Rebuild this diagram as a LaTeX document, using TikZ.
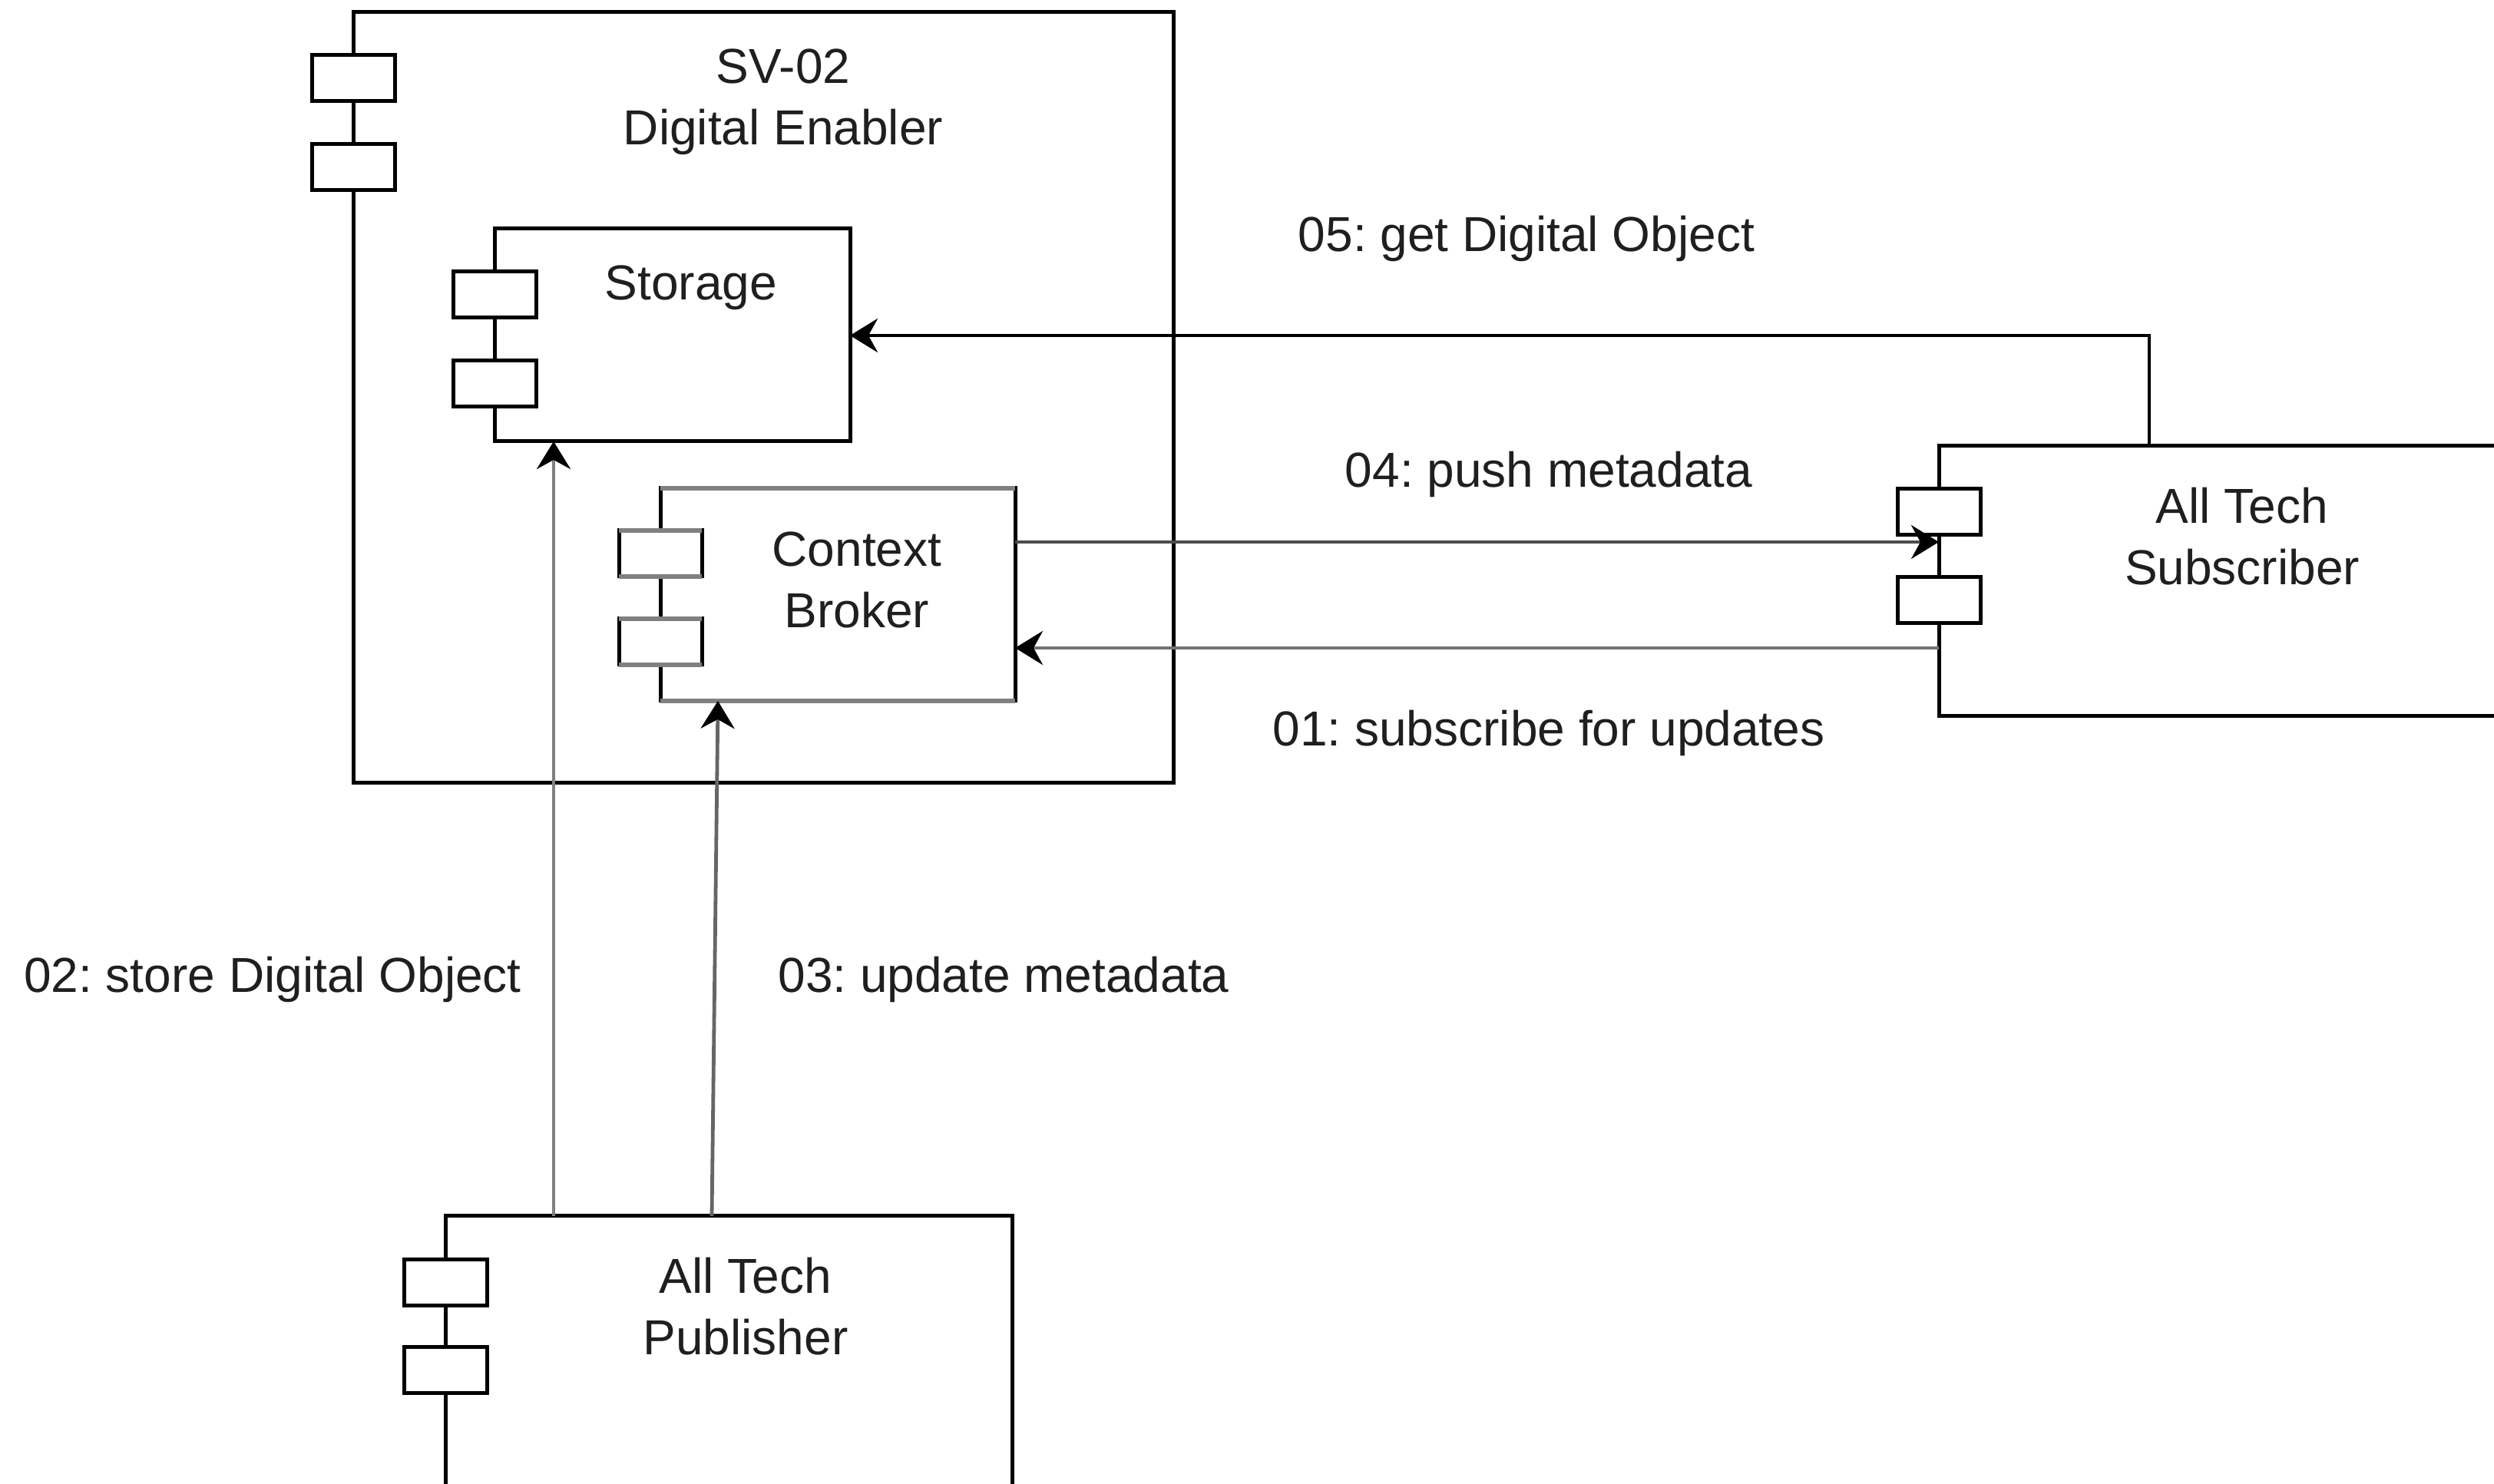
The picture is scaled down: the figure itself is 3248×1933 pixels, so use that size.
\documentclass[tikz,border=0pt]{standalone}
\usepackage{fontspec}
\setmainfont{Liberation Sans}
\usetikzlibrary{arrows.meta}
\frenchspacing
\begin{document}
\begin{tikzpicture}[x=0.25pt,y=-0.25pt,
  comp/.style={draw=black,line width=1.25pt,fill=white,inner sep=0pt,outer sep=0pt},
  port/.style={draw=black,line width=1.25pt,fill=white,minimum width=27pt,minimum height=15pt,inner sep=0pt,outer sep=0pt},
  txt/.style={font=\fontsize{16pt}{20pt}\selectfont,align=center,inner sep=0pt,text=black!88},
  conn/.style={line width=1.2pt,-{Stealth[length=9pt,width=11pt,inset=3pt,color=black]}},
  grayedge/.style={draw=black!50,line width=1.4pt}]
\useasboundingbox (0,0) rectangle (3248,1933);
\clip (0,0) rectangle (3248,1933);
\fill[white] (0,0) rectangle (3248,1933);

% SV-02 Digital Enabler
\node[comp,minimum width=267pt,minimum height=251pt] (sv) at (994,518) {};
\node[port] (svp1) at (sv.west |- 0,102) {};
\node[port] (svp2) at (sv.west |- 0,218) {};
\node[txt] (svt) at (1020,133) {SV-02\\Digital Enabler};

% Storage
\node[comp,minimum width=115.75pt,minimum height=69.25pt] (st) at (875.5,436.5) {};
\node[port] (stp1) at (st.west |- 0,384) {};
\node[port] (stp2) at (st.west |- 0,500) {};
\node[txt] (stt) at (900,375) {Storage};

% Context Broker
\node[comp,minimum width=115.5pt,minimum height=69.25pt] (cb) at (1091,774.5) {};
\draw[grayedge] (cb.north west) -- (cb.north east);
\draw[grayedge] (cb.south west) -- (cb.south east);
\node[port] (cbp1) at (cb.west |- 0,721) {};
\node[port] (cbp2) at (cb.west |- 0,836) {};
\draw[grayedge] (cbp1.north west) -- (cbp1.north east);
\draw[grayedge] (cbp1.south west) -- (cbp1.south east);
\draw[grayedge] (cbp2.north west) -- (cbp2.north east);
\draw[grayedge] (cbp2.south west) -- (cbp2.south east);
\node[txt] (cbt) at (1116,755) {Context\\Broker};

% All Tech Subscriber
\node[comp,minimum width=193.75pt,minimum height=88pt] (sub) at (2912.5,757) {};
\node[port] (subp1) at (sub.west |- 0,667) {};
\node[port] (subp2) at (sub.west |- 0,782) {};
\node[txt] (subt) at (2920,699) {All Tech\\Subscriber};

% All Tech Publisher
\node[comp,minimum width=184.5pt,minimum height=94pt] (pub) at (949,1772) {};
\node[port] (pubp1) at (pub.west |- 0,1671) {};
\node[port] (pubp2) at (pub.west |- 0,1785) {};
\node[txt] (pubt) at (971,1702) {All Tech\\Publisher};

% helper coordinates
\coordinate (y05) at (0,437);
\coordinate (x05) at (2799,0);
\coordinate (y04) at (0,706);
\coordinate (y01) at (0,844);
\coordinate (x02) at (721,0);
\coordinate (x03a) at (927,0);
\coordinate (x03b) at (935,0);

% connectors
\draw[conn,draw=black] (sub.north -| x05) |- (st.east |- y05);
\draw[conn,draw=black!70] (cb.east |- y04) -- (sub.west |- y04);
\draw[conn,draw=black!55] (sub.west |- y01) -- (cb.east |- y01);
\draw[conn,draw=black!50] (pub.north -| x02) -- (st.south -| x02);
\draw[conn,draw=black!60] (pub.north -| x03a) -- (cb.south -| x03b);

% labels
\node[txt] (l05) at (1988,311) {05: get Digital Object};
\node[txt] (l04) at (2017,618) {04: push metadata};
\node[txt] (l01) at (2017,955) {01: subscribe for updates};
\node[txt] (l02) at (355,1276) {02: store Digital Object};
\node[txt] (l03) at (1307,1276) {03: update metadata};
\end{tikzpicture}
\end{document}
